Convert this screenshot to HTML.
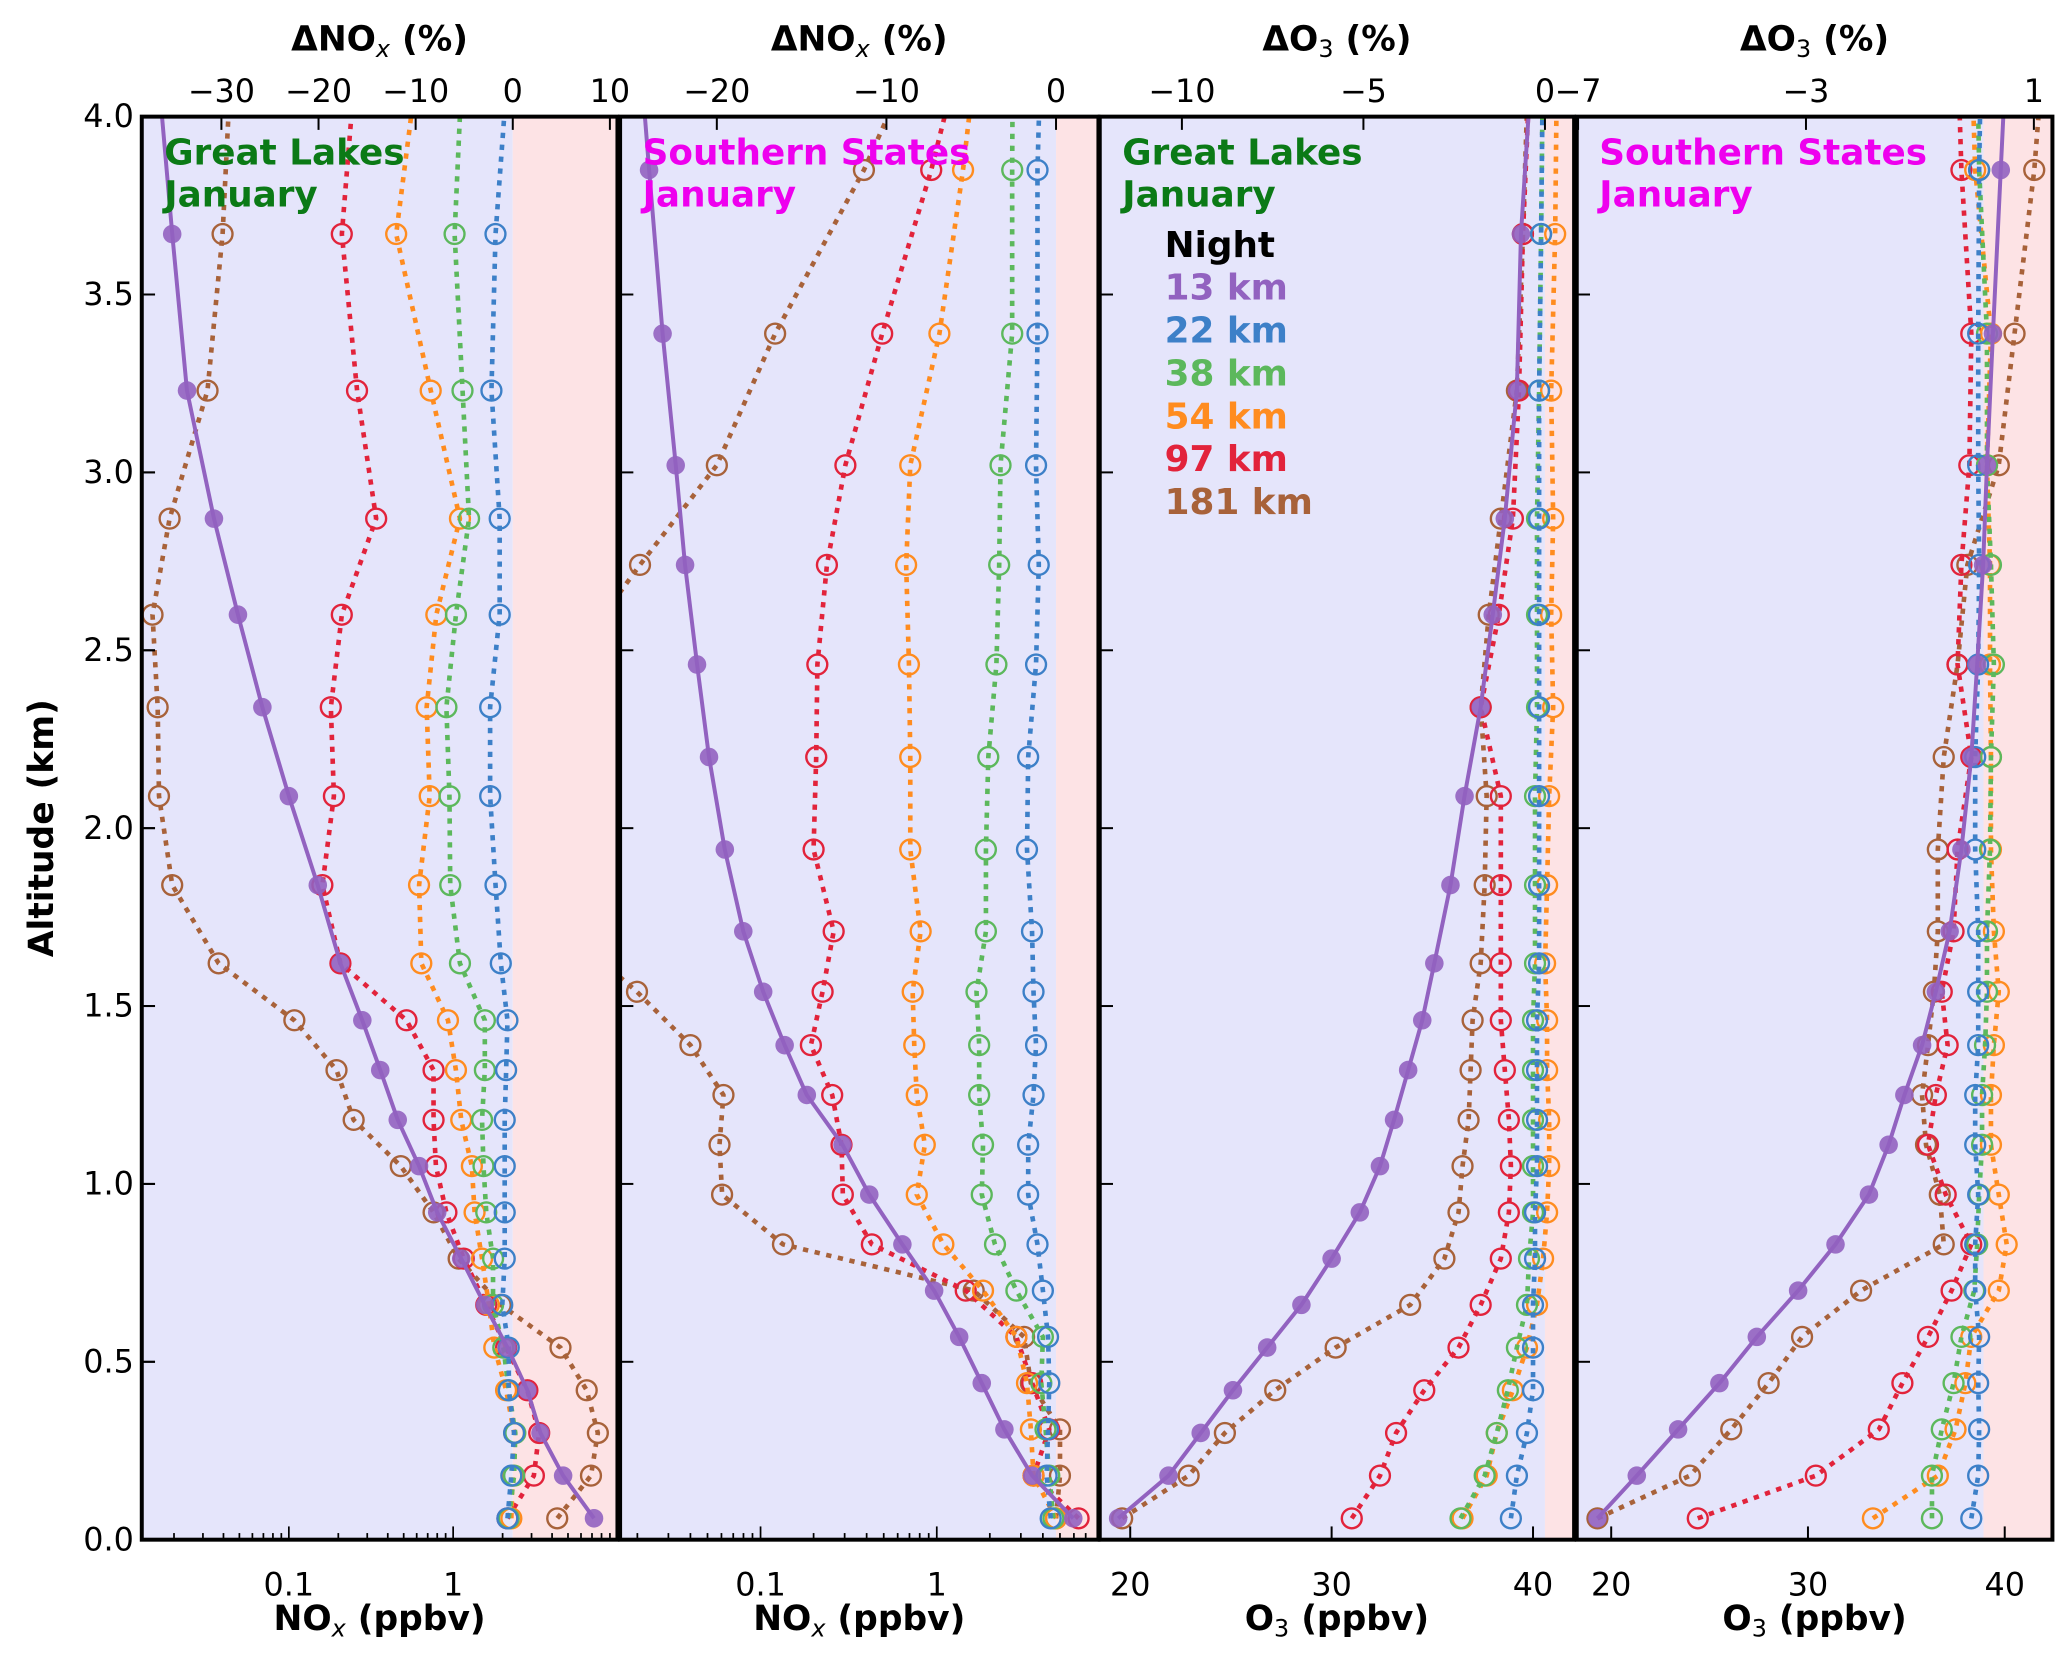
<!DOCTYPE html>
<html><head><meta charset="utf-8">
<style>
html,body{margin:0;padding:0;background:#fff;}
svg{display:block;font-family:"DejaVu Sans","Liberation Sans",sans-serif;}
</style></head>
<body>
<svg id="chart" width="2067" height="1653" viewBox="0 0 1560 1247.5" xmlns="http://www.w3.org/2000/svg"></svg>
<script>
// ---------- data ----------
const altsGL = [0.06,0.18,0.30,0.42,0.54,0.66,0.79,0.92,1.05,1.18,1.32,1.46,1.62,1.84,2.09,2.34,2.60,2.87,3.23,3.67,4.2];
const altsSS = [0.06,0.18,0.31,0.44,0.57,0.70,0.83,0.97,1.11,1.25,1.39,1.54,1.71,1.94,2.20,2.46,2.74,3.02,3.39,3.85,4.2];
const seriesNames = ["13 km","22 km","38 km","54 km","97 km","181 km"];
// Panel 1: Great Lakes NOx (ppbv)
const glNox13 = [7.2,4.67,3.4,2.83,2.14,1.56,1.12,0.80,0.62,0.46,0.36,0.28,0.206,0.15,0.10,0.069,0.049,0.035,0.024,0.0195,0.0155];
const glNox22 = [2.14,2.26,2.35,2.18,2.18,1.99,2.06,2.06,2.06,2.06,2.1,2.14,1.95,1.81,1.68,1.68,1.92,1.92,1.71,1.81,2.2];
const glNox38 = [2.18,2.35,2.39,2.18,2.02,1.75,1.75,1.59,1.53,1.50,1.56,1.56,1.10,0.96,0.95,0.91,1.04,1.25,1.14,1.02,1.15];
const glNox54 = [2.26,2.30,2.35,2.10,1.78,1.65,1.50,1.35,1.30,1.12,1.04,0.93,0.64,0.62,0.72,0.69,0.79,1.10,0.73,0.45,0.63];
const glNox97 = [2.14,3.10,3.34,2.83,2.10,1.59,1.16,0.91,0.785,0.76,0.76,0.52,0.206,0.16,0.188,0.18,0.21,0.34,0.26,0.21,0.26];
const glNox181 = [4.3,6.9,7.6,6.5,4.5,1.95,1.08,0.76,0.48,0.248,0.195,0.108,0.0374,0.0195,0.0162,0.0159,0.0148,0.0188,0.032,0.0395,0.045];
// Panel 2: Southern States NOx (ppbv)
const ssNox13 = [5.95,3.48,2.42,1.8,1.34,0.966,0.638,0.414,0.292,0.183,0.137,0.1035,0.0798,0.0627,0.051,0.0436,0.0373,0.033,0.0278,0.0233,0.0205];
const ssNox22 = [4.43,4.2,4.28,4.35,4.28,4.0,3.73,3.3,3.3,3.54,3.66,3.54,3.47,3.25,3.3,3.66,3.79,3.66,3.73,3.73,3.9];
const ssNox38 = [4.59,4.35,4.14,3.92,4.0,2.83,2.14,1.8,1.83,1.74,1.74,1.68,1.9,1.9,1.96,2.18,2.26,2.3,2.68,2.68,2.7];
const ssNox54 = [4.75,3.54,3.42,3.25,2.83,1.83,1.09,0.77,0.855,0.77,0.745,0.73,0.81,0.707,0.707,0.695,0.67,0.707,1.035,1.41,1.7];
const ssNox97 = [6.38,3.54,4.35,3.48,2.83,1.46,0.428,0.293,0.288,0.255,0.193,0.225,0.26,0.2,0.207,0.21,0.238,0.303,0.49,0.93,1.4];
const ssNox181 = [4.75,5.0,5.0,3.42,3.13,1.62,0.134,0.0605,0.0585,0.0616,0.04,0.0199,0.008,0.008,0.008,0.008,0.0207,0.0565,0.121,0.386,0.8];
// Panel 3: Great Lakes O3 (ppbv)
const glO313 = [19.4,21.9,23.5,25.1,26.8,28.5,30.0,31.4,32.4,33.1,33.8,34.5,35.1,35.9,36.6,37.4,38.0,38.6,39.2,39.4,40.0];
const glO322 = [38.9,39.2,39.7,40.0,40.0,40.0,40.1,40.1,40.2,40.2,40.2,40.2,40.3,40.3,40.3,40.3,40.3,40.3,40.3,40.4,40.5];
const glO338 = [36.4,37.6,38.2,38.75,39.2,39.7,39.8,40.0,40.0,40.0,40.0,40.0,40.1,40.1,40.1,40.2,40.2,40.2,40.3,40.4,40.5];
const glO354 = [36.5,37.7,38.2,39.0,39.7,40.2,40.5,40.7,40.8,40.8,40.7,40.7,40.6,40.7,40.8,41.0,40.9,41.0,40.9,41.1,41.2];
const glO397 = [31.0,32.4,33.2,34.6,36.3,37.4,38.4,38.8,38.9,38.8,38.6,38.4,38.4,38.4,38.4,37.4,38.3,39.0,39.3,39.5,39.9];
const glO3181 = [19.6,22.9,24.7,27.2,30.2,33.9,35.6,36.3,36.5,36.8,36.9,37.0,37.4,37.6,37.7,37.4,37.8,38.4,39.2,39.5,39.8];
// Panel 4: Southern States O3 (ppbv)
const ssO313 = [19.3,21.3,23.4,25.5,27.4,29.5,31.4,33.1,34.1,34.9,35.8,36.5,37.2,37.8,38.3,38.6,38.9,39.1,39.4,39.8,40.1];
const ssO322 = [38.3,38.65,38.7,38.65,38.7,38.5,38.5,38.65,38.5,38.5,38.65,38.65,38.65,38.5,38.5,38.65,38.7,38.65,38.65,38.7,38.8];
const ssO338 = [36.3,36.3,36.8,37.4,37.8,38.45,38.6,38.7,38.85,38.85,39.0,39.1,39.1,39.25,39.3,39.45,39.3,39.1,39.1,38.7,38.6];
const ssO354 = [33.3,36.6,37.5,38.0,38.3,39.7,40.1,39.7,39.3,39.3,39.45,39.7,39.45,39.3,39.3,39.25,39.25,39.1,39.3,38.5,38.3];
const ssO397 = [24.4,30.4,33.6,34.8,36.1,37.3,38.3,37.0,36.1,36.5,37.1,36.8,37.4,37.6,38.3,37.6,37.8,38.2,38.3,37.8,37.6];
const ssO3181 = [19.3,24.0,26.1,28.0,29.7,32.7,36.9,36.7,36.0,35.8,36.1,36.4,36.6,36.6,36.9,37.6,38.1,39.7,40.5,41.5,42.0];
// Tick labels
const yTicks = [0.0,0.5,1.0,1.5,2.0,2.5,3.0,3.5,4.0];
const p1TopTicks = [-30,-20,-10,0,10];
const p2TopTicks = [-20,-10,0];
const p3TopTicks = [-10,-5,0];
const p4TopTicks = [-7,-3,1];
const logTicks = [0.1,1];
const o3Ticks = [20,30,40];

// ---------- layout ----------
const NS="http://www.w3.org/2000/svg";
const svg=document.getElementById('chart');
const Y0=1162, Y1=88;
const yScale=a=>Y0-(a/4)*(Y0-Y1);
const colors=["#9262c0","#3d80c8","#5cb85c","#ff8c1f","#e2233b","#a8623a"];
function el(tag,attrs,parent){const e=document.createElementNS(NS,tag);for(const k in attrs)e.setAttribute(k,attrs[k]);(parent||svg).appendChild(e);return e;}

const panels=[
 {key:"great-lakes-nox",x0:107,x1:466,log:true,ref:[342,124],pink:387,alts:altsGL,data:[glNox13,glNox22,glNox38,glNox54,glNox97,glNox181],
  top:p1TopTicks,topF:v=>387+v*7.33,topTitle:"NOx",botTitle:"NOx",ticks:logTicks,region:"Great Lakes",rc:"#0b7a16"},
 {key:"southern-states-nox",x0:468,x1:829,log:true,ref:[707,133],pink:797,alts:altsSS,data:[ssNox13,ssNox22,ssNox38,ssNox54,ssNox97,ssNox181],
  top:p2TopTicks,topF:v=>797+v*12.8,topTitle:"NOx",botTitle:"NOx",ticks:logTicks,region:"Southern States",rc:"#ee00ee"},
 {key:"great-lakes-o3",x0:830,x1:1188,log:false,ref:[853,15.2],pink:1166,alts:altsGL,data:[glO313,glO322,glO338,glO354,glO397,glO3181],
  top:p3TopTicks,topF:v=>1166+v*27.4,topTitle:"O3",botTitle:"O3",ticks:o3Ticks,region:"Great Lakes",rc:"#0b7a16"},
 {key:"southern-states-o3",x0:1190,x1:1549,log:false,ref:[1216,14.85],pink:1497,alts:altsSS,data:[ssO313,ssO322,ssO338,ssO354,ssO397,ssO3181],
  top:p4TopTicks,topF:v=>1363+(v+3)*43,topTitle:"O3",botTitle:"O3",ticks:o3Ticks,region:"Southern States",rc:"#ee00ee"}
];
const fmtMinus=v=>v<0?"\u2212"+Math.abs(v):String(v);

panels.forEach((p,pi)=>{
  const xs = p.log ? (v=>p.ref[0]+Math.log10(v)*p.ref[1]) : (v=>p.ref[0]+(v-20)*p.ref[1]);
  const g=el('g',{});
  
  
  const cid='clip'+pi;
  const cp=el('clipPath',{id:cid},g); el('rect',{x:p.x0,y:Y1,width:p.x1-p.x0,height:Y0-Y1},cp);
  const bg=el('rect',{x:p.x0,y:Y1,width:p.pink-p.x0,height:Y0-Y1,fill:"#e5e5fb"},g);
  
  
  const pk=el('rect',{x:p.pink,y:Y1,width:p.x1-p.pink,height:Y0-Y1,fill:"#fde3e5"},g);
  
  
  const plot=el('g',{'clip-path':'url(#'+cid+')'},g);
  [5,4,3,2,1,0].forEach(si=>{
    const vals=p.data[si];
    const pts=vals.map((v,i)=>[xs(v),yScale(p.alts[i])]);
    const sg=el('g',{},plot);
    
    
    const ln=el('polyline',{points:pts.map(q=>q[0].toFixed(1)+","+q[1].toFixed(1)).join(" "),fill:"none",stroke:colors[si],
      'stroke-width':si===0?3:3.5,'stroke-dasharray':si===0?"none":"4 5",'stroke-linejoin':'round'},sg);
    
    
    pts.forEach(q=>{
      const c=el('circle',si===0?{cx:q[0],cy:q[1],r:7,fill:colors[0],'fill-opacity':0.9}:{cx:q[0],cy:q[1],r:7.5,fill:"none",stroke:colors[si],'stroke-width':1.8},sg);
      
      
    });
  });
  const fr=el('rect',{x:p.x0,y:Y1,width:p.x1-p.x0,height:Y0-Y1,fill:"none",stroke:"#000",'stroke-width':3},g);
  
  
  yTicks.forEach(t=>{ if(t>0&&t<4){ const y=yScale(t); el('line',{x1:p.x0,x2:p.x0+10,y1:y,y2:y,stroke:"#000",'stroke-width':1.5},g);} });
  p.top.forEach(t=>{const x=p.topF(t);
    el('line',{x1:x,x2:x,y1:Y1,y2:Y1+10,stroke:"#000",'stroke-width':1.5},g);
    const tx=el('text',{x:x,y:77,'text-anchor':'middle','font-size':24},g); tx.textContent=fmtMinus(t);
    
    
  });
  if(p.log){
    for(let e=-2;e<=0;e++) for(let m=1;m<=9;m++){const v=m*Math.pow(10,e);const x=xs(v);
      if(x>p.x0+2&&x<p.x1-2){const L=(m===1)?10:5; el('line',{x1:x,x2:x,y1:Y0,y2:Y0-L,stroke:"#000",'stroke-width':1.3},g);}}
  } else {
    p.ticks.forEach(t=>{const x=xs(t); el('line',{x1:x,x2:x,y1:Y0,y2:Y0-10,stroke:"#000",'stroke-width':1.5},g);});
  }
  p.ticks.forEach(t=>{const x=xs(t);
    const tx=el('text',{x:x,y:1204,'text-anchor':'middle','font-size':24},g); tx.textContent=String(t);
    
    
  });
  const cx=(p.x0+p.x1)/2;
  const tt=el('text',{x:cx,y:38,'text-anchor':'middle','font-size':26,'font-weight':'bold'},g);
  
  
  if(p.topTitle==="NOx"){tt.innerHTML='ΔNO<tspan font-style="italic" font-weight="normal" font-size="18" dy="5">x</tspan><tspan dy="-5"> (%)</tspan>';}
  else{tt.innerHTML='ΔO<tspan font-weight="normal" font-size="18" dy="5">3</tspan><tspan dy="-5"> (%)</tspan>';}
  const bt=el('text',{x:cx,y:1230,'text-anchor':'middle','font-size':26,'font-weight':'bold'},g);
  
  
  if(p.botTitle==="NOx"){bt.innerHTML='NO<tspan font-style="italic" font-weight="normal" font-size="18" dy="5">x</tspan><tspan dy="-5"> (ppbv)</tspan>';}
  else{bt.innerHTML='O<tspan font-weight="normal" font-size="18" dy="5">3</tspan><tspan dy="-5"> (ppbv)</tspan>';}
  const rl=el('text',{x:p.x0+17,y:124,'font-size':27,'font-weight':'bold',fill:p.rc},g);
  
  
  rl.innerHTML='<tspan x="'+(p.x0+17)+'">'+p.region+'</tspan><tspan x="'+(p.x0+17)+'" dy="32">January</tspan>';
});

yTicks.forEach(t=>{const y=yScale(t);
  el('line',{x1:107,x2:117,y1:y,y2:y,stroke:"#000",'stroke-width':1.5});
  const tx=el('text',{x:101,y:y+8,'text-anchor':'end','font-size':24}); tx.textContent=t.toFixed(1);
  
  
});
const yt=el('text',{x:0,y:0,'text-anchor':'middle','font-size':26,'font-weight':'bold',transform:'translate(40,625) rotate(-90)'});
yt.textContent="Altitude (km)";



const lg=el('g',{});


const ln0=el('text',{x:879,y:194,'font-size':27,'font-weight':'bold',fill:"#000"},lg); ln0.textContent="Night";


seriesNames.forEach((n,i)=>{
  const t=el('text',{x:879,y:226+i*32.4,'font-size':27,'font-weight':'bold',fill:colors[i]},lg); t.textContent=n;
  
  
});
</script>
</body></html>
